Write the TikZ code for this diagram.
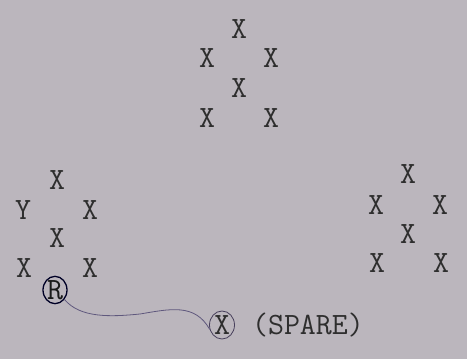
\documentclass[tikz,border=0pt]{standalone}
\usetikzlibrary{shapes.geometric}
\begin{document}
\begin{tikzpicture}[x=1pt,y=-1pt,
  typed/.style={font=\ttfamily\fontsize{31}{31}\selectfont, text=black!82, inner sep=0pt},
  ring/.style={ellipse, draw=black!85!blue, line width=1.3pt, minimum width=24pt, minimum height=27pt, inner sep=0pt},
  thinring/.style={ellipse, draw={rgb,255:red,70;green,62;blue,90}, line width=0.8pt, minimum width=25pt, minimum height=28pt, inner sep=0pt},
  wire/.style={draw={rgb,255:red,95;green,88;blue,125}, line width=0.8pt}]
\fill[fill={rgb,255:red,187;green,182;blue,189}] (0,0) rectangle (467,359);
\useasboundingbox (0,0) rectangle (467,359);
% top group
\node[typed] (t1) at (239,29) {X};
\node[typed] (t2) at (207,58) {X};
\node[typed] (t3) at (271,58) {X};
\node[typed] (t4) at (239,88) {X};
\node[typed] (t5) at (207,118) {X};
\node[typed] (t6) at (271,118) {X};
% left group
\node[typed] (l1) at (57,180) {X};
\node[typed] (l2) at (23,210) {Y};
\node[typed] (l3) at (90,210) {X};
\node[typed] (l4) at (57,238) {X};
\node[typed] (l5) at (24,268) {X};
\node[typed] (l6) at (90,268) {X};
\node[ring, typed, text=black!90] (r) at (55,290) {R};
% right group
\node[typed] (g1) at (408,174) {X};
\node[typed] (g2) at (376,205) {X};
\node[typed] (g3) at (440,205) {X};
\node[typed] (g4) at (408,234) {X};
\node[typed] (g5) at (377,263) {X};
\node[typed] (g6) at (441,263) {X};
% spare
\node[thinring, typed] (sx) at (222,325) {X};
\node[typed, anchor=base west] (sp) at ([xshift=17pt]sx.base east) {(SPARE)};
% connector
\path[wire] (r.-45) .. controls (80,318) and (110,317) .. (140,314)
  .. controls (170,309) and (195,303) .. (sx.200);
\end{tikzpicture}
\end{document}
